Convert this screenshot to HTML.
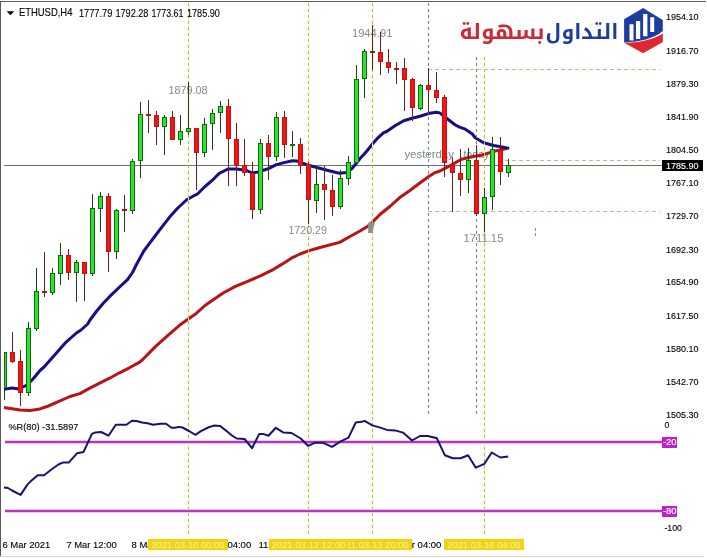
<!DOCTYPE html>
<html><head><meta charset="utf-8"><title>ETHUSD,H4</title>
<style>html,body{margin:0;padding:0;background:#fff;} body{width:707px;height:558px;overflow:hidden;} svg{display:block;}</style>
</head><body>
<svg width="707" height="558" viewBox="0 0 707 558" shape-rendering="crispEdges" font-family="'Liberation Sans', Arial, sans-serif"><rect x="0" y="0" width="707" height="558" fill="#ffffff"/><rect x="0" y="1" width="706" height="1" fill="#5a5a5a"/><rect x="0" y="1" width="1" height="555" fill="#5a5a5a"/><rect x="0" y="556" width="704" height="1" fill="#d4d4d4"/><line x1="535.5" y1="228" x2="535.5" y2="237" stroke="#8a8a8a" stroke-width="1" stroke-dasharray="3,2"/><rect x="187" y="3" width="3" height="532" fill="#fcfbe2"/><rect x="307" y="3" width="3" height="532" fill="#fcfbe2"/><rect x="371" y="3" width="3" height="532" fill="#fcfbe2"/><rect x="483" y="3" width="3" height="532" fill="#fcfbe2"/><rect x="4" y="165" width="658" height="1" fill="#6e6e6e"/><text x="404.40" y="157.90" font-size="11.00" fill="#7a8a8a" textLength="49.52" lengthAdjust="spacingAndGlyphs">yesterday</text><text x="463.40" y="157.90" font-size="11.00" fill="#7a8a8a" textLength="25.98" lengthAdjust="spacingAndGlyphs">today</text><polyline points="4.0,407.6 12.0,408.8 20.0,410.1 30.0,410.5 38.5,409.3 48.4,406.0 58.3,401.7 70.0,396.5 79.9,393.6 89.8,388.1 99.7,383.2 109.6,378.2 119.5,372.8 129.4,367.8 139.3,362.4 142.7,359.5 155.4,346.6 168.2,335.2 179.5,325.3 188.7,318.8 196.5,313.2 205.0,305.5 210.0,302.0 222.7,293.2 235.4,286.4 248.2,281.2 260.9,275.6 273.6,269.3 282.5,263.9 291.4,258.2 300.0,254.0 308.4,250.9 320.0,247.5 339.6,242.4 349.5,236.7 360.0,231.0 369.3,225.4 379.9,214.5 389.8,206.5 399.7,197.6 409.6,190.7 419.5,183.3 428.4,176.8 434.4,172.9 440.0,171.0 445.4,168.1 450.7,165.4 456.1,162.2 461.5,159.2 467.9,157.7 474.4,156.3 480.8,155.2 487.3,153.4 493.7,151.5 498.0,150.4 503.0,149.2 507.0,148.6" fill="none" stroke="#b81414" stroke-width="3.0" stroke-linejoin="round" stroke-linecap="butt" shape-rendering="auto"/><polyline points="4.0,389.3 12.0,388.1 19.0,389.0 27.0,385.0 33.0,379.0 40.0,370.5 44.0,367.0 56.0,353.5 65.0,343.2 76.4,333.0 81.0,330.0 87.7,324.0 90.0,320.0 96.7,311.0 103.5,303.0 110.0,296.2 118.0,288.5 127.5,279.6 132.5,272.5 136.7,264.0 143.8,251.0 149.5,243.3 155.8,235.0 162.6,226.2 169.4,217.3 177.3,208.5 186.4,200.0 194.3,195.5 197.7,193.8 204.5,187.0 212.4,180.2 219.2,173.4 228.0,169.0 236.7,169.0 246.7,170.5 252.3,173.0 258.0,172.0 265.0,169.7 269.0,168.3 276.4,164.6 284.0,162.6 292.4,160.8 297.0,161.0 308.3,165.3 319.7,168.3 330.0,171.0 339.5,173.3 346.6,172.6 352.0,168.5 356.5,163.0 360.0,158.6 366.5,151.5 372.2,144.3 377.3,138.4 383.7,132.6 386.7,131.5 395.0,125.7 403.7,120.7 412.0,118.2 420.0,116.2 428.4,113.6 436.2,112.2 439.7,112.9 446.8,118.5 455.4,125.0 459.6,127.2 465.3,129.2 472.3,134.0 475.2,137.7 483.7,142.7 493.6,145.5 502.0,147.0 509.2,148.4" fill="none" stroke="#160e88" stroke-width="3.0" stroke-linejoin="round" stroke-linecap="butt" shape-rendering="auto"/><rect x="188" y="3" width="1" height="532" fill="#f6f2c4"/><line x1="188.5" y1="3" x2="188.5" y2="535" stroke="#b8b488" stroke-width="1" stroke-dasharray="3,3"/><rect x="308" y="3" width="1" height="532" fill="#f6f2c4"/><line x1="308.5" y1="3" x2="308.5" y2="535" stroke="#b8b488" stroke-width="1" stroke-dasharray="3,3"/><rect x="372" y="3" width="1" height="532" fill="#f6f2c4"/><line x1="372.5" y1="3" x2="372.5" y2="535" stroke="#b8b488" stroke-width="1" stroke-dasharray="3,3"/><rect x="484" y="3" width="1" height="532" fill="#f6f2c4"/><line x1="484.5" y1="3" x2="484.5" y2="535" stroke="#b8b488" stroke-width="1" stroke-dasharray="3,3"/><line x1="428.5" y1="3" x2="428.5" y2="415" stroke="#7c7c7c" stroke-width="1" stroke-dasharray="3,3"/><line x1="476.5" y1="3" x2="476.5" y2="415" stroke="#7c7c7c" stroke-width="1" stroke-dasharray="3,3"/><line x1="428" y1="69.5" x2="660" y2="69.5" stroke="#c8b888" stroke-width="1" stroke-dasharray="4,3"/><line x1="505" y1="160.5" x2="660" y2="160.5" stroke="#c8b888" stroke-width="1" stroke-dasharray="4,3"/><line x1="428" y1="211.5" x2="660" y2="211.5" stroke="#c8b888" stroke-width="1" stroke-dasharray="4,3"/><text x="168.40" y="93.80" font-size="10.80" fill="#888888" textLength="39.01" lengthAdjust="spacingAndGlyphs">1879.08</text><text x="351.90" y="36.60" font-size="10.80" fill="#888888" textLength="40.56" lengthAdjust="spacingAndGlyphs">1944.91</text><text x="288.40" y="234.10" font-size="10.80" fill="#888888" textLength="38.54" lengthAdjust="spacingAndGlyphs">1720.29</text><text x="463.40" y="242.30" font-size="10.80" fill="#888888" textLength="40.04" lengthAdjust="spacingAndGlyphs">1711.15</text><path d="M368.2,222.5 L375,222.5 L372.2,233 L368.2,233 Z" fill="#8e8e8e" shape-rendering="auto"/><rect x="4" y="352" width="1" height="48" fill="#1c3f1c"/><rect x="4" y="352" width="3" height="36" fill="#0c6e0c"/><rect x="5" y="353" width="1" height="34" fill="#2fe02f"/><rect x="12" y="332" width="1" height="31" fill="#6a1f1f"/><rect x="10" y="352" width="5" height="10" fill="#cc1010"/><rect x="11" y="353" width="3" height="8" fill="#ec1616"/><rect x="20" y="350" width="1" height="56" fill="#6a1f1f"/><rect x="18" y="361" width="5" height="32" fill="#cc1010"/><rect x="19" y="362" width="3" height="30" fill="#ec1616"/><rect x="28" y="322" width="1" height="74" fill="#1c3f1c"/><rect x="26" y="328" width="5" height="65" fill="#0c6e0c"/><rect x="27" y="329" width="3" height="63" fill="#2fe02f"/><rect x="36" y="268" width="1" height="63" fill="#1c3f1c"/><rect x="34" y="291" width="5" height="38" fill="#0c6e0c"/><rect x="35" y="292" width="3" height="36" fill="#2fe02f"/><rect x="44" y="252" width="1" height="45" fill="#6a1f1f"/><rect x="42" y="291" width="5" height="2" fill="#a01818"/><rect x="52" y="268" width="1" height="27" fill="#1c3f1c"/><rect x="50" y="273" width="5" height="20" fill="#0c6e0c"/><rect x="51" y="274" width="3" height="18" fill="#2fe02f"/><rect x="60" y="243" width="1" height="42" fill="#1c3f1c"/><rect x="58" y="255" width="5" height="19" fill="#0c6e0c"/><rect x="59" y="256" width="3" height="17" fill="#2fe02f"/><rect x="68" y="249" width="1" height="31" fill="#6a1f1f"/><rect x="66" y="255" width="5" height="18" fill="#cc1010"/><rect x="67" y="256" width="3" height="16" fill="#ec1616"/><rect x="76" y="260" width="1" height="42" fill="#1c3f1c"/><rect x="74" y="262" width="5" height="11" fill="#0c6e0c"/><rect x="75" y="263" width="3" height="9" fill="#2fe02f"/><rect x="84" y="262" width="1" height="39" fill="#6a1f1f"/><rect x="82" y="262" width="5" height="12" fill="#cc1010"/><rect x="83" y="263" width="3" height="10" fill="#ec1616"/><rect x="92" y="194" width="1" height="82" fill="#1c3f1c"/><rect x="90" y="208" width="5" height="66" fill="#0c6e0c"/><rect x="91" y="209" width="3" height="64" fill="#2fe02f"/><rect x="100" y="192" width="1" height="40" fill="#1c3f1c"/><rect x="98" y="196" width="5" height="13" fill="#0c6e0c"/><rect x="99" y="197" width="3" height="11" fill="#2fe02f"/><rect x="108" y="193" width="1" height="79" fill="#6a1f1f"/><rect x="106" y="196" width="5" height="56" fill="#cc1010"/><rect x="107" y="197" width="3" height="54" fill="#ec1616"/><rect x="116" y="209" width="1" height="50" fill="#1c3f1c"/><rect x="114" y="210" width="5" height="42" fill="#0c6e0c"/><rect x="115" y="211" width="3" height="40" fill="#2fe02f"/><rect x="124" y="195" width="1" height="37" fill="#6a1f1f"/><rect x="122" y="209" width="5" height="2" fill="#a01818"/><rect x="132" y="159" width="1" height="55" fill="#1c3f1c"/><rect x="130" y="161" width="5" height="50" fill="#0c6e0c"/><rect x="131" y="162" width="3" height="48" fill="#2fe02f"/><rect x="140" y="102" width="1" height="76" fill="#1c3f1c"/><rect x="138" y="114" width="5" height="47" fill="#0c6e0c"/><rect x="139" y="115" width="3" height="45" fill="#2fe02f"/><rect x="148" y="100" width="1" height="33" fill="#6a1f1f"/><rect x="146" y="114" width="5" height="2" fill="#a01818"/><rect x="156" y="111" width="1" height="34" fill="#6a1f1f"/><rect x="154" y="115" width="5" height="12" fill="#cc1010"/><rect x="155" y="116" width="3" height="10" fill="#ec1616"/><rect x="164" y="115" width="1" height="40" fill="#1c3f1c"/><rect x="162" y="117" width="5" height="10" fill="#0c6e0c"/><rect x="163" y="118" width="3" height="8" fill="#2fe02f"/><rect x="172" y="111" width="1" height="29" fill="#6a1f1f"/><rect x="170" y="117" width="5" height="23" fill="#cc1010"/><rect x="171" y="118" width="3" height="21" fill="#ec1616"/><rect x="180" y="115" width="1" height="30" fill="#1c3f1c"/><rect x="178" y="131" width="5" height="9" fill="#0c6e0c"/><rect x="179" y="132" width="3" height="7" fill="#2fe02f"/><rect x="188" y="82" width="1" height="53" fill="#1c3f1c"/><rect x="186" y="128" width="5" height="4" fill="#0c6e0c"/><rect x="187" y="129" width="3" height="2" fill="#2fe02f"/><rect x="196" y="128" width="1" height="62" fill="#6a1f1f"/><rect x="194" y="128" width="5" height="25" fill="#cc1010"/><rect x="195" y="129" width="3" height="23" fill="#ec1616"/><rect x="204" y="118" width="1" height="39" fill="#1c3f1c"/><rect x="202" y="124" width="5" height="29" fill="#0c6e0c"/><rect x="203" y="125" width="3" height="27" fill="#2fe02f"/><rect x="212" y="109" width="1" height="41" fill="#1c3f1c"/><rect x="210" y="113" width="5" height="11" fill="#0c6e0c"/><rect x="211" y="114" width="3" height="9" fill="#2fe02f"/><rect x="220" y="101" width="1" height="32" fill="#1c3f1c"/><rect x="218" y="106" width="5" height="7" fill="#0c6e0c"/><rect x="219" y="107" width="3" height="5" fill="#2fe02f"/><rect x="228" y="99" width="1" height="87" fill="#6a1f1f"/><rect x="226" y="106" width="5" height="33" fill="#cc1010"/><rect x="227" y="107" width="3" height="31" fill="#ec1616"/><rect x="236" y="123" width="1" height="63" fill="#6a1f1f"/><rect x="234" y="139" width="5" height="27" fill="#cc1010"/><rect x="235" y="140" width="3" height="25" fill="#ec1616"/><rect x="244" y="139" width="1" height="37" fill="#6a1f1f"/><rect x="242" y="165" width="5" height="8" fill="#cc1010"/><rect x="243" y="166" width="3" height="6" fill="#ec1616"/><rect x="252" y="162" width="1" height="57" fill="#6a1f1f"/><rect x="250" y="173" width="5" height="37" fill="#cc1010"/><rect x="251" y="174" width="3" height="35" fill="#ec1616"/><rect x="260" y="139" width="1" height="75" fill="#1c3f1c"/><rect x="258" y="143" width="5" height="67" fill="#0c6e0c"/><rect x="259" y="144" width="3" height="65" fill="#2fe02f"/><rect x="268" y="135" width="1" height="45" fill="#6a1f1f"/><rect x="266" y="143" width="5" height="14" fill="#cc1010"/><rect x="267" y="144" width="3" height="12" fill="#ec1616"/><rect x="276" y="112" width="1" height="49" fill="#1c3f1c"/><rect x="274" y="117" width="5" height="40" fill="#0c6e0c"/><rect x="275" y="118" width="3" height="38" fill="#2fe02f"/><rect x="284" y="111" width="1" height="47" fill="#6a1f1f"/><rect x="282" y="117" width="5" height="28" fill="#cc1010"/><rect x="283" y="118" width="3" height="26" fill="#ec1616"/><rect x="292" y="131" width="1" height="26" fill="#1c3f1c"/><rect x="290" y="144" width="5" height="2" fill="#0c6e0c"/><rect x="300" y="138" width="1" height="36" fill="#6a1f1f"/><rect x="298" y="144" width="5" height="22" fill="#cc1010"/><rect x="299" y="145" width="3" height="20" fill="#ec1616"/><rect x="308" y="162" width="1" height="62" fill="#6a1f1f"/><rect x="306" y="164" width="5" height="36" fill="#cc1010"/><rect x="307" y="165" width="3" height="34" fill="#ec1616"/><rect x="316" y="166" width="1" height="47" fill="#1c3f1c"/><rect x="314" y="184" width="5" height="17" fill="#0c6e0c"/><rect x="315" y="185" width="3" height="15" fill="#2fe02f"/><rect x="324" y="166" width="1" height="54" fill="#6a1f1f"/><rect x="322" y="184" width="5" height="6" fill="#cc1010"/><rect x="323" y="185" width="3" height="4" fill="#ec1616"/><rect x="332" y="175" width="1" height="41" fill="#6a1f1f"/><rect x="330" y="190" width="5" height="17" fill="#cc1010"/><rect x="331" y="191" width="3" height="15" fill="#ec1616"/><rect x="340" y="170" width="1" height="39" fill="#1c3f1c"/><rect x="338" y="178" width="5" height="29" fill="#0c6e0c"/><rect x="339" y="179" width="3" height="27" fill="#2fe02f"/><rect x="348" y="156" width="1" height="29" fill="#1c3f1c"/><rect x="346" y="162" width="5" height="17" fill="#0c6e0c"/><rect x="347" y="163" width="3" height="15" fill="#2fe02f"/><rect x="356" y="65" width="1" height="101" fill="#1c3f1c"/><rect x="354" y="79" width="5" height="84" fill="#0c6e0c"/><rect x="355" y="80" width="3" height="82" fill="#2fe02f"/><rect x="364" y="49" width="1" height="49" fill="#1c3f1c"/><rect x="362" y="51" width="5" height="28" fill="#0c6e0c"/><rect x="363" y="52" width="3" height="26" fill="#2fe02f"/><rect x="372" y="25" width="1" height="45" fill="#6a1f1f"/><rect x="370" y="51" width="5" height="2" fill="#a01818"/><rect x="380" y="32" width="1" height="43" fill="#6a1f1f"/><rect x="378" y="52" width="5" height="10" fill="#cc1010"/><rect x="379" y="53" width="3" height="8" fill="#ec1616"/><rect x="388" y="49" width="1" height="24" fill="#6a1f1f"/><rect x="386" y="62" width="5" height="6" fill="#cc1010"/><rect x="387" y="63" width="3" height="4" fill="#ec1616"/><rect x="396" y="62" width="1" height="22" fill="#6a1f1f"/><rect x="394" y="68" width="5" height="2" fill="#a01818"/><rect x="404" y="58" width="1" height="53" fill="#6a1f1f"/><rect x="402" y="68" width="5" height="12" fill="#cc1010"/><rect x="403" y="69" width="3" height="10" fill="#ec1616"/><rect x="412" y="78" width="1" height="43" fill="#6a1f1f"/><rect x="410" y="79" width="5" height="29" fill="#cc1010"/><rect x="411" y="80" width="3" height="27" fill="#ec1616"/><rect x="420" y="84" width="1" height="26" fill="#1c3f1c"/><rect x="418" y="85" width="5" height="24" fill="#0c6e0c"/><rect x="419" y="86" width="3" height="22" fill="#2fe02f"/><rect x="428" y="68" width="1" height="45" fill="#6a1f1f"/><rect x="426" y="85" width="5" height="5" fill="#cc1010"/><rect x="427" y="86" width="3" height="3" fill="#ec1616"/><rect x="436" y="72" width="1" height="31" fill="#6a1f1f"/><rect x="434" y="90" width="5" height="8" fill="#cc1010"/><rect x="435" y="91" width="3" height="6" fill="#ec1616"/><rect x="444" y="95" width="1" height="82" fill="#6a1f1f"/><rect x="442" y="97" width="5" height="66" fill="#cc1010"/><rect x="443" y="98" width="3" height="64" fill="#ec1616"/><rect x="452" y="157" width="1" height="55" fill="#6a1f1f"/><rect x="450" y="165" width="5" height="8" fill="#cc1010"/><rect x="451" y="166" width="3" height="6" fill="#ec1616"/><rect x="460" y="149" width="1" height="47" fill="#6a1f1f"/><rect x="458" y="173" width="5" height="7" fill="#cc1010"/><rect x="459" y="174" width="3" height="5" fill="#ec1616"/><rect x="468" y="148" width="1" height="45" fill="#1c3f1c"/><rect x="466" y="160" width="5" height="20" fill="#0c6e0c"/><rect x="467" y="161" width="3" height="18" fill="#2fe02f"/><rect x="476" y="145" width="1" height="71" fill="#6a1f1f"/><rect x="474" y="160" width="5" height="54" fill="#cc1010"/><rect x="475" y="161" width="3" height="52" fill="#ec1616"/><rect x="484" y="188" width="1" height="44" fill="#1c3f1c"/><rect x="482" y="197" width="5" height="17" fill="#0c6e0c"/><rect x="483" y="198" width="3" height="15" fill="#2fe02f"/><rect x="492" y="137" width="1" height="73" fill="#1c3f1c"/><rect x="490" y="149" width="5" height="48" fill="#0c6e0c"/><rect x="491" y="150" width="3" height="46" fill="#2fe02f"/><rect x="500" y="137" width="1" height="48" fill="#6a1f1f"/><rect x="498" y="150" width="5" height="22" fill="#cc1010"/><rect x="499" y="151" width="3" height="20" fill="#ec1616"/><rect x="508" y="159" width="1" height="18" fill="#1c3f1c"/><rect x="506" y="165" width="5" height="8" fill="#0c6e0c"/><rect x="507" y="166" width="3" height="6" fill="#2fe02f"/><path d="M6.7,11.3 L14.2,11.3 L10.45,15.2 Z" fill="#000" shape-rendering="auto"/><text x="18.90" y="16.30" font-size="10.20" fill="#000" stroke="#000" stroke-width="0.12" textLength="53.51" lengthAdjust="spacingAndGlyphs">ETHUSD,H4</text><text x="78.90" y="16.80" font-size="10.20" fill="#000" stroke="#000" stroke-width="0.12" textLength="33.52" lengthAdjust="spacingAndGlyphs">1777.79</text><text x="115.40" y="16.80" font-size="10.20" fill="#000" stroke="#000" stroke-width="0.12" textLength="33.03" lengthAdjust="spacingAndGlyphs">1792.28</text><text x="151.40" y="16.80" font-size="10.20" fill="#000" stroke="#000" stroke-width="0.12" textLength="32.01" lengthAdjust="spacingAndGlyphs">1773.61</text><text x="186.90" y="16.80" font-size="10.20" fill="#000" stroke="#000" stroke-width="0.12" textLength="33.03" lengthAdjust="spacingAndGlyphs">1785.90</text><rect x="456" y="3" width="210" height="52" fill="#ffffff"/><text x="665.90" y="20.20" font-size="9.70" fill="#000" stroke="#000" stroke-width="0.12" textLength="32.53" lengthAdjust="spacingAndGlyphs">1954.10</text><text x="665.90" y="53.85" font-size="9.70" fill="#000" stroke="#000" stroke-width="0.12" textLength="32.53" lengthAdjust="spacingAndGlyphs">1916.70</text><text x="665.90" y="86.50" font-size="9.70" fill="#000" stroke="#000" stroke-width="0.12" textLength="32.53" lengthAdjust="spacingAndGlyphs">1879.30</text><text x="665.90" y="120.15" font-size="9.70" fill="#000" stroke="#000" stroke-width="0.12" textLength="32.53" lengthAdjust="spacingAndGlyphs">1841.90</text><text x="665.90" y="152.80" font-size="9.70" fill="#000" stroke="#000" stroke-width="0.12" textLength="32.53" lengthAdjust="spacingAndGlyphs">1804.50</text><text x="665.90" y="186.45" font-size="9.70" fill="#000" stroke="#000" stroke-width="0.12" textLength="32.53" lengthAdjust="spacingAndGlyphs">1767.10</text><text x="665.90" y="219.10" font-size="9.70" fill="#000" stroke="#000" stroke-width="0.12" textLength="32.53" lengthAdjust="spacingAndGlyphs">1729.70</text><text x="665.90" y="252.75" font-size="9.70" fill="#000" stroke="#000" stroke-width="0.12" textLength="32.53" lengthAdjust="spacingAndGlyphs">1692.30</text><text x="665.90" y="285.40" font-size="9.70" fill="#000" stroke="#000" stroke-width="0.12" textLength="32.53" lengthAdjust="spacingAndGlyphs">1654.90</text><text x="665.90" y="319.05" font-size="9.70" fill="#000" stroke="#000" stroke-width="0.12" textLength="32.53" lengthAdjust="spacingAndGlyphs">1617.50</text><text x="665.90" y="351.70" font-size="9.70" fill="#000" stroke="#000" stroke-width="0.12" textLength="32.53" lengthAdjust="spacingAndGlyphs">1580.10</text><text x="665.90" y="385.35" font-size="9.70" fill="#000" stroke="#000" stroke-width="0.12" textLength="32.53" lengthAdjust="spacingAndGlyphs">1542.70</text><text x="665.90" y="418.00" font-size="9.70" fill="#000" stroke="#000" stroke-width="0.12" textLength="32.53" lengthAdjust="spacingAndGlyphs">1505.30</text><rect x="662" y="160" width="41" height="11" fill="#000"/><text x="665.90" y="168.80" font-size="9.70" fill="#fff" stroke="#fff" stroke-width="0.12" textLength="32.53" lengthAdjust="spacingAndGlyphs">1785.90</text><text x="8.40" y="430.00" font-size="9.70" fill="#000" stroke="#000" stroke-width="0.12" textLength="70.01" lengthAdjust="spacingAndGlyphs">%R(80) -31.5897</text><rect x="5" y="440" width="657" height="4" fill="#f4c2f4"/><rect x="5" y="441" width="657" height="2" fill="#b23ab8"/><rect x="5" y="509" width="657" height="4" fill="#f4c2f4"/><rect x="5" y="510" width="657" height="2" fill="#b23ab8"/><polyline points="4.0,487.6 8.0,488.0 12.0,490.5 20.6,494.9 27.6,484.4 31.3,480.8 37.7,475.3 44.1,475.3 52.4,468.8 58.8,464.2 63.4,462.4 68.9,462.4 77.2,453.2 83.6,451.9 91.9,433.9 95.6,432.4 101.1,432.0 108.5,435.7 115.8,424.7 126.4,424.7 132.0,420.7 136.5,421.0 142.0,422.5 147.6,423.2 153.0,424.7 160.4,423.8 166.0,423.8 171.5,427.8 175.0,427.8 178.8,426.9 182.5,427.5 189.0,431.0 195.4,434.8 200.9,431.1 208.2,427.5 213.8,425.6 220.2,426.0 226.6,431.1 232.1,435.7 236.7,438.5 244.6,439.0 252.0,448.2 259.3,433.9 263.0,433.9 268.5,435.7 275.8,427.8 283.2,432.4 291.5,433.0 300.7,438.5 308.0,445.8 315.4,442.7 322.7,442.7 332.0,446.8 340.2,441.6 348.5,437.6 355.8,422.5 363.2,421.4 364.5,420.9 372.4,425.4 380.4,427.6 387.1,429.9 395.0,430.4 403.0,432.6 412.0,440.5 420.0,436.0 427.9,436.0 436.9,438.3 444.8,455.2 452.8,458.2 460.7,458.2 468.1,455.2 475.8,467.7 484.4,463.8 491.7,452.5 500.3,457.5 508.2,456.4" fill="none" stroke="#14146e" stroke-width="2" stroke-linejoin="round" shape-rendering="auto"/><text x="664.40" y="428.30" font-size="9.70" fill="#000" stroke="#000" stroke-width="0.12" textLength="4.80" lengthAdjust="spacingAndGlyphs">0</text><rect x="662" y="437" width="15" height="11" fill="#bc22c8"/><text x="662.90" y="445.30" font-size="9.70" fill="#fff" stroke="#fff" stroke-width="0.12" textLength="13.54" lengthAdjust="spacingAndGlyphs">-20</text><rect x="662" y="506" width="15" height="11" fill="#bc22c8"/><text x="662.90" y="514.30" font-size="9.70" fill="#fff" stroke="#fff" stroke-width="0.12" textLength="13.54" lengthAdjust="spacingAndGlyphs">-80</text><text x="664.40" y="531.30" font-size="9.70" fill="#000" stroke="#000" stroke-width="0.12" textLength="17.50" lengthAdjust="spacingAndGlyphs">-100</text><text x="2.40" y="548.10" font-size="9.70" fill="#000" stroke="#000" stroke-width="0.12" textLength="48.01" lengthAdjust="spacingAndGlyphs">6 Mar 2021</text><text x="66.40" y="547.50" font-size="9.70" fill="#000" stroke="#000" stroke-width="0.12" textLength="50.31" lengthAdjust="spacingAndGlyphs">7 Mar 12:00</text><text x="131.60" y="548.10" font-size="9.70" fill="#000" stroke="#000" stroke-width="0.12" textLength="50.50" lengthAdjust="spacingAndGlyphs">8 Mar 20:00</text><text x="195.20" y="548.10" font-size="9.70" fill="#000" stroke="#000" stroke-width="0.12" textLength="56.01" lengthAdjust="spacingAndGlyphs">10 Mar 04:00</text><text x="258.40" y="548.10" font-size="9.70" fill="#000" stroke="#000" stroke-width="0.12" textLength="56.01" lengthAdjust="spacingAndGlyphs">11 Mar 12:00</text><text x="385.40" y="548.10" font-size="9.70" fill="#000" stroke="#000" stroke-width="0.12" textLength="56.03" lengthAdjust="spacingAndGlyphs">14 Mar 04:00</text><rect x="148.3" y="539" width="79.5" height="11" fill="#efd414"/><text x="151.40" y="548.10" font-size="9.70" fill="#fbf39a" textLength="73.02" lengthAdjust="spacingAndGlyphs">2021.03.10 00:00</text><rect x="332.2" y="539" width="79.5" height="11" fill="#efd414"/><text x="334.90" y="548.10" font-size="9.70" fill="#fbf39a" textLength="74.02" lengthAdjust="spacingAndGlyphs">2021.03.13 20:00</text><rect x="268.6" y="539" width="79.5" height="11" fill="#efd414"/><text x="271.40" y="548.10" font-size="9.70" fill="#fbf39a" textLength="74.01" lengthAdjust="spacingAndGlyphs">2021.03.12 12:00</text><rect x="444.0" y="539" width="79.5" height="11" fill="#efd414"/><text x="447.40" y="548.10" font-size="9.70" fill="#fbf39a" textLength="73.01" lengthAdjust="spacingAndGlyphs">2021.03.16 04:00</text><g shape-rendering="auto"><path d="M643.1,8.1 L662.8,19.9 L662.8,31 C655,38 640,42 624.1,42.4 L624.1,19.3 Z" fill="#1d3c9e"/><path d="M624.1,42.8 C642,43 656,38 662.8,33.5 L662.8,41.9 L643.1,53.2 Z" fill="#e0262f"/><path d="M629.5,24.2 h4 v16.2 h-4 Z M636,21 h4.2 v18.1 h-4.2 Z M643.1,14 h4.3 v22.3 h-4.3 Z M650.2,17.2 h4 v14.8 h-4 Z" fill="#ffffff"/></g><text x="618.4" y="38.9" font-size="20.4" font-weight="bold" fill="#1d3c9e" text-anchor="end" font-family="'Noto Kufi Arabic', 'DejaVu Sans', sans-serif">التداول</text><text x="544.6" y="38.9" font-size="21.2" font-weight="bold" fill="#cc2a38" text-anchor="end" font-family="'Noto Kufi Arabic', 'DejaVu Sans', sans-serif">بسهولة</text></svg>
</body></html>
